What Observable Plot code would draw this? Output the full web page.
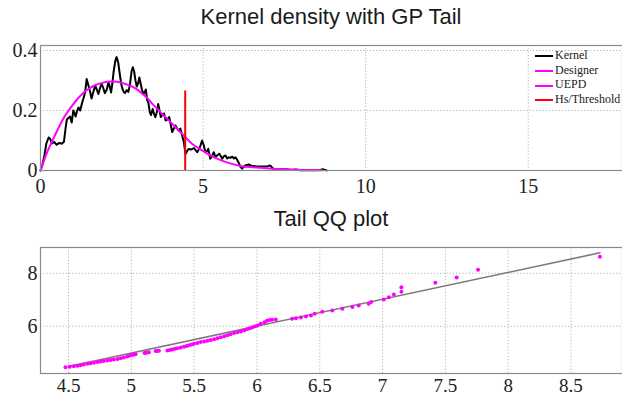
<!DOCTYPE html>
<html>
<head>
<meta charset="utf-8">
<script src="https://cdn.jsdelivr.net/npm/d3@7"></script>
<script src="https://cdn.jsdelivr.net/npm/@observablehq/plot@0.6"></script>
<style>
  html, body { margin: 0; padding: 0; background: #fff; }
  #wrap { position: relative; width: 622px; height: 397px; overflow: hidden; background: #fff; }
  .title { position: absolute; left: 40px; width: 582px; text-align: center; font-family: "Liberation Sans", Arial, sans-serif; font-size: 22px; line-height: 22px; color: #1a1a1a; z-index: 2; }
  .chart { position: absolute; left: 0; }
  #wrap svg text { font-family: "Liberation Serif", "Times New Roman", serif !important; fill: #222; }
  #legend { position: absolute; left: 535px; top: 48px; font-family: "Liberation Serif", "Times New Roman", serif; font-size: 12px; color: #222; z-index: 3; }
  .lg { position: relative; height: 14.7px; line-height: 14.7px; white-space: nowrap; }
  .lg span.sw { display: inline-block; width: 18px; height: 2px; vertical-align: middle; margin-right: 2px; }
</style>
</head>
<body>
<div id="wrap"></div>
<script>
// ---------- Top panel: kernel density with GP tail ----------
const kernelX = [
  0.00,0.06,0.12,0.18,0.25,0.30,0.35,0.42,0.50,0.58,
  0.65,0.72,0.77,0.81,0.86,0.91,0.96,1.01,1.05,1.08,
  1.13,1.17,1.22,1.27,1.32,1.37,1.42,1.47,1.52,1.57,
  1.62,1.68,1.73,1.78,1.83,1.88,1.93,1.98,2.04,2.09,
  2.13,2.17,2.21,2.25,2.30,2.34,2.39,2.44,2.48,2.52,
  2.56,2.60,2.65,2.70,2.75,2.80,2.84,2.88,2.92,2.96,
  3.00,3.04,3.08,3.12,3.16,3.20,3.24,3.28,3.32,3.36,
  3.40,3.45,3.49,3.53,3.58,3.62,3.66,3.70,3.75,3.80,
  3.85,3.90,3.96,4.01,4.05,4.10,4.15,4.20,4.25,4.30,
  4.35,4.41,4.46,4.51,4.56,4.64,4.72,4.77,4.82,4.87,
  4.92,4.97,5.02,5.07,5.12,5.16,5.22,5.28,5.33,5.38,
  5.43,5.50,5.55,5.59,5.64,5.69,5.74,5.79,5.84,5.90,
  5.95,6.00,6.05,6.10,6.15,6.20,6.25,6.32,6.40,6.48,
  6.55,6.65,6.80,6.95,7.06,7.16,7.25,7.36,7.50,7.56,
  7.70,7.85,8.00,8.20,8.45,8.60,8.68,8.75,8.80
];
const kernelY = [
  0.000,0.020,0.050,0.090,0.110,0.105,0.090,0.095,0.086,0.092,
  0.089,0.095,0.140,0.170,0.175,0.180,0.160,0.200,0.190,0.180,
  0.200,0.210,0.200,0.222,0.240,0.260,0.305,0.285,0.265,0.240,
  0.260,0.283,0.270,0.255,0.275,0.289,0.275,0.258,0.270,0.294,
  0.280,0.260,0.290,0.330,0.365,0.378,0.360,0.320,0.290,0.272,
  0.262,0.258,0.268,0.262,0.285,0.330,0.344,0.330,0.300,0.280,
  0.290,0.310,0.290,0.270,0.255,0.260,0.270,0.235,0.225,0.195,
  0.185,0.205,0.190,0.178,0.195,0.222,0.200,0.178,0.185,0.190,
  0.167,0.170,0.178,0.150,0.128,0.140,0.150,0.140,0.133,0.140,
  0.120,0.094,0.055,0.065,0.072,0.070,0.075,0.068,0.061,0.070,
  0.083,0.100,0.085,0.061,0.065,0.072,0.039,0.050,0.061,0.045,
  0.050,0.056,0.047,0.039,0.048,0.050,0.040,0.044,0.042,0.046,
  0.040,0.044,0.035,0.025,0.012,0.006,0.012,0.018,0.020,0.016,
  0.015,0.013,0.013,0.013,0.017,0.006,0.004,0.005,0.003,0.004,
  0.002,0.003,0.001,0.001,0.001,0.002,0.004,0.002,0.000
];
// Designer (body) curve
const designerX = [0,0.2,0.37,0.5,0.67,0.8,0.98,1.15,1.29,1.45,
  1.6,1.75,1.9,2.05,2.21,2.35,2.52,2.65,2.82,3.0,
  3.13,3.3,3.44,3.6,3.74,3.9,4.05,4.2,4.36,4.45];
const designerY = [0,0.06,0.1,0.13,0.167,0.19,0.217,0.24,0.256,0.27,
  0.28,0.287,0.292,0.296,0.297,0.296,0.292,0.287,0.28,0.268,
  0.256,0.24,0.222,0.205,0.189,0.172,0.156,0.139,0.122,0.112];
// UEPD (GP tail) curve
const uepdX = [4.45,4.66,4.97,5.28,5.58,5.89,6.2,6.5,6.8,7.1,7.42,7.7,8.0,8.3,8.65];
const uepdY = [0.112,0.089,0.067,0.047,0.033,0.022,0.014,0.011,0.009,0.006,0.004,0.003,0.002,0.0015,0.001];
// Hs / threshold marker
const thresholdX = [4.45];
const thresholdTop = [0.265];

const topXTicks = [0, 5, 10, 15];
const topYTicks = [0, 0.2, 0.4];
const topYTickLabels = ["0", "0.2", "0.4"];

const legendLabels = ["Kernel", "Designer", "UEPD", "Hs/Threshold"];
const legendColors = ["#000000", "#ff00ff", "#ff00ff", "#ff0000"];

// ---------- Bottom panel: tail QQ plot ----------
const qqX = [
  4.476,4.51,4.542,4.57,4.596,4.62,4.649,4.675,4.702,4.73,
  4.755,4.78,4.809,4.835,4.861,4.89,4.915,4.94,4.968,4.99,
  5.008,5.02,5.034,5.105,5.114,5.127,5.14,5.194,5.207,5.22,
  5.287,5.307,5.327,5.347,5.367,5.393,5.419,5.44,5.459,5.48,
  5.499,5.526,5.553,5.58,5.606,5.632,5.659,5.685,5.712,5.74,
  5.766,5.79,5.818,5.845,5.872,5.9,5.925,5.945,5.965,5.985,
  6.005,6.03,6.06,6.08,6.10,6.12,6.15,
  6.28,6.31,6.35,6.39,6.43,6.46,6.52,6.60,6.68,6.76,6.81,6.89,
  6.91,7.01,7.05,7.09,7.15,7.15,7.42,7.59,7.76,8.73
];
const qqY = [
  4.45,4.47,4.49,4.51,4.53,4.555,4.58,4.60,4.62,4.645,
  4.67,4.69,4.71,4.725,4.74,4.765,4.79,4.82,4.86,4.89,
  4.92,4.93,4.94,4.99,5.00,5.01,5.02,5.06,5.065,5.07,
  5.08,5.10,5.12,5.145,5.17,5.195,5.22,5.25,5.28,5.31,
  5.34,5.37,5.40,5.425,5.45,5.48,5.51,5.545,5.58,5.62,
  5.66,5.70,5.74,5.77,5.80,5.845,5.89,5.925,5.96,5.995,
  6.03,6.09,6.15,6.21,6.23,6.24,6.25,
  6.28,6.30,6.33,6.37,6.40,6.47,6.55,6.59,6.66,6.72,6.78,6.85,
  6.91,7.01,7.09,7.20,7.30,7.47,7.64,7.84,8.13,8.62
];
const qqLineX = [4.5, 8.73];
const qqLineY = [4.48, 8.77];

const qqXTicks = [4.5, 5, 5.5, 6, 6.5, 7, 7.5, 8, 8.5];
const qqXTickLabels = ["4.5", "5", "5.5", "6", "6.5", "7", "7.5", "8", "8.5"];
const qqYTicks = [6, 8];
const qqYTickLabels = ["6", "8"];

// ---------- build ----------
const zip = (xs, ys) => xs.map((x, i) => ({x, y: ys[i]}));
const kernel = zip(kernelX, kernelY);
const designer = zip(designerX, designerY);
const uepd = zip(uepdX, uepdY);
const qqPts = zip(qqX, qqY);
const qqLine = zip(qqLineX, qqLineY);
const thr = thresholdX.map((x, i) => ({x, top: thresholdTop[i]}));

const SERIF = '"Liberation Serif", "Times New Roman", serif';
const tickFont = {fontFamily: SERIF, fontSize: "20px", color: "#222", background: "transparent"};
const gridStyle = {stroke: "#b5b5b5", strokeOpacity: 1, strokeDasharray: "1.2,2", strokeWidth: 1};

const wrap = document.getElementById("wrap");

const p1 = Plot.plot({
  width: 622, height: 200,
  marginTop: 45, marginBottom: 30, marginLeft: 40, marginRight: 0,
  style: tickFont,
  x: {domain: [0, 17.9], label: null},
  y: {domain: [0, 0.4167], label: null},
  marks: [
    Plot.gridX(topXTicks.filter(d => d > 0), gridStyle),
    Plot.gridY(topYTicks.filter(d => d > 0), gridStyle),
    Plot.line(kernel, {x: "x", y: "y", stroke: "#000", strokeWidth: 2, curve: "linear"}),
    Plot.line(designer, {x: "x", y: "y", stroke: "#ff00ff", strokeWidth: 2, curve: "catmull-rom"}),
    Plot.line(uepd, {x: "x", y: "y", stroke: "#ff00ff", strokeWidth: 2, curve: "catmull-rom"}),
    Plot.ruleX(thr, {x: "x", y1: 0, y2: "top", stroke: "#ff0000", strokeWidth: 2}),
    Plot.frame({stroke: "#8a8a8a", strokeWidth: 1.2}),
    Plot.axisX(topXTicks, {tickSize: 0, tickPadding: 8, label: null, fontSize: 20, fontFamily: SERIF, tickFormat: d => String(d)}),
    Plot.axisY(topYTicks, {tickSize: 0, tickPadding: 3, label: null, fontSize: 20, fontFamily: SERIF, tickFormat: d => topYTickLabels[topYTicks.indexOf(d)]})
  ]
});
p1.classList.add("chart");
p1.style.top = "0px";
wrap.appendChild(p1);

const p2 = Plot.plot({
  width: 622, height: 197,
  marginTop: 47, marginBottom: 24, marginLeft: 40, marginRight: 0,
  style: tickFont,
  x: {domain: [4.277, 8.91], label: null},
  y: {domain: [4.215, 8.97], label: null},
  marks: [
    Plot.gridX(qqXTicks, gridStyle),
    Plot.gridY(qqYTicks, gridStyle),
    Plot.line(qqLine, {x: "x", y: "y", stroke: "#7a7a7a", strokeWidth: 1.6}),
    Plot.dot(qqPts, {x: "x", y: "y", r: 2, fill: "#ff00ff", stroke: "none"}),
    Plot.frame({stroke: "#8a8a8a", strokeWidth: 1.2}),
    Plot.axisX(qqXTicks, {tickSize: 0, tickPadding: 5, label: null, fontSize: 19, fontFamily: SERIF, tickFormat: d => qqXTickLabels[qqXTicks.indexOf(d)]}),
    Plot.axisY(qqYTicks, {tickSize: 0, tickPadding: 3, label: null, fontSize: 20, fontFamily: SERIF, tickFormat: d => qqYTickLabels[qqYTicks.indexOf(d)]})
  ]
});
p2.classList.add("chart");
p2.style.top = "200px";
wrap.appendChild(p2);

// titles
const t1 = document.createElement("div");
t1.className = "title"; t1.style.top = "6px"; t1.textContent = "Kernel density with GP Tail";
wrap.appendChild(t1);
const t2 = document.createElement("div");
t2.className = "title"; t2.style.top = "208px"; t2.textContent = "Tail QQ plot";
wrap.appendChild(t2);

// legend
const lg = document.createElement("div");
lg.id = "legend";
legendLabels.forEach((lab, i) => {
  const row = document.createElement("div");
  row.className = "lg";
  const sw = document.createElement("span");
  sw.className = "sw"; sw.style.background = legendColors[i];
  row.appendChild(sw);
  row.appendChild(document.createTextNode(lab));
  lg.appendChild(row);
});
wrap.appendChild(lg);
</script>
</body>
</html>
